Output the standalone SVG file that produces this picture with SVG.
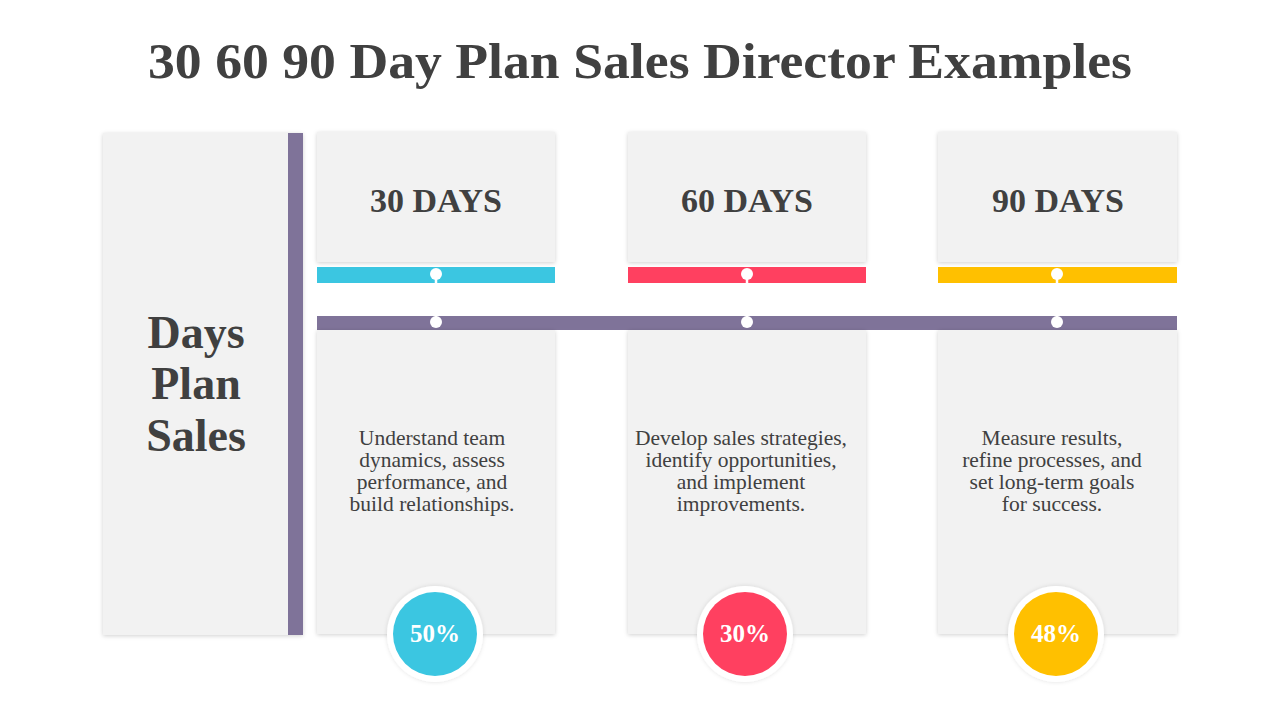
<svg xmlns="http://www.w3.org/2000/svg" width="1280" height="720" viewBox="0 0 1280 720">
<defs>
<filter id="sh" x="-10%" y="-10%" width="120%" height="120%">
<feDropShadow dx="0" dy="1" stdDeviation="2" flood-color="#000" flood-opacity="0.18"/>
</filter>
<filter id="sh2" x="-20%" y="-20%" width="140%" height="140%">
<feDropShadow dx="0" dy="0" stdDeviation="2" flood-color="#000" flood-opacity="0.12"/>
</filter>
</defs>
<style>
.panel{fill:#f2f2f2;filter:url(#sh);}
.title{font-family:"Liberation Serif","DejaVu Serif",serif;font-weight:bold;font-size:51px;fill:#404040;text-anchor:middle;}
.head{font-family:"Liberation Serif","DejaVu Serif",serif;font-weight:bold;font-size:34px;fill:#404040;text-anchor:middle;}
.side{font-family:"Liberation Serif","DejaVu Serif",serif;font-weight:bold;font-size:46px;fill:#404040;text-anchor:middle;}
.body{font-family:"Liberation Serif","DejaVu Serif",serif;font-size:21.5px;fill:#404040;text-anchor:middle;}
.pct{font-family:"Liberation Serif","DejaVu Serif",serif;font-weight:bold;font-size:25px;fill:#ffffff;text-anchor:middle;}
.dot{fill:#ffffff;}
.purple{fill:#7f7399;}
</style>
<rect width="1280" height="720" fill="#ffffff"/>
<text class="title" x="640" y="78" textLength="984" lengthAdjust="spacingAndGlyphs">30 60 90 Day Plan Sales Director Examples</text>

<g id="side-panel">
<rect class="panel" x="103" y="133" width="200" height="502"/>
<rect class="purple" x="288" y="133" width="15" height="502"/>
<text class="side" x="196" y="348">Days</text>
<text class="side" x="196" y="399">Plan</text>
<text class="side" x="196" y="451">Sales</text>
</g>

<g id="timeline">
<rect class="purple" x="317" y="316" width="860" height="14"/>
</g>

<g id="stage-30">
<rect class="panel" x="317" y="132" width="238" height="130"/>
<text class="head" x="436" y="212">30 DAYS</text>
<rect x="317" y="267" width="238" height="16" fill="#3bc6e1"/>
<rect class="panel" x="317" y="330" width="238" height="304"/>
<text class="body" x="432" y="445">Understand team</text>
<text class="body" x="432" y="467">dynamics, assess</text>
<text class="body" x="432" y="489">performance, and</text>
<text class="body" x="432" y="511">build relationships.</text>
<circle cx="435" cy="634" r="48" fill="#ffffff" filter="url(#sh2)"/>
<circle cx="435" cy="634" r="42" fill="#3bc6e1"/>
<text class="pct" x="435" y="642">50%</text>
</g>

<g id="stage-60">
<rect class="panel" x="628" y="132" width="238" height="130"/>
<text class="head" x="747" y="212">60 DAYS</text>
<rect x="628" y="267" width="238" height="16" fill="#ff4060"/>
<rect class="panel" x="628" y="330" width="238" height="304"/>
<text class="body" x="741" y="445">Develop sales strategies,</text>
<text class="body" x="741" y="467">identify opportunities,</text>
<text class="body" x="741" y="489">and implement</text>
<text class="body" x="741" y="511">improvements.</text>
<circle cx="745" cy="634" r="48" fill="#ffffff" filter="url(#sh2)"/>
<circle cx="745" cy="634" r="42" fill="#ff4060"/>
<text class="pct" x="745" y="642">30%</text>
</g>

<g id="stage-90">
<rect class="panel" x="938" y="132" width="239" height="130"/>
<text class="head" x="1058" y="212">90 DAYS</text>
<rect x="938" y="267" width="239" height="16" fill="#ffc000"/>
<rect class="panel" x="938" y="330" width="239" height="304"/>
<text class="body" x="1052" y="445">Measure results,</text>
<text class="body" x="1052" y="467">refine processes, and</text>
<text class="body" x="1052" y="489">set long-term goals</text>
<text class="body" x="1052" y="511">for success.</text>
<circle cx="1056" cy="634" r="48" fill="#ffffff" filter="url(#sh2)"/>
<circle cx="1056" cy="634" r="42" fill="#ffc000"/>
<text class="pct" x="1056" y="642">48%</text>
</g>

<g id="connectors">
<g stroke="#ffffff" stroke-width="2.5">
<line x1="436" y1="274" x2="436" y2="322"/>
<line x1="747" y1="274" x2="747" y2="322"/>
<line x1="1057" y1="274" x2="1057" y2="322"/>
</g>
<circle class="dot" cx="436" cy="274" r="6"/>
<circle class="dot" cx="436" cy="322" r="6"/>
<circle class="dot" cx="747" cy="274" r="6"/>
<circle class="dot" cx="747" cy="322" r="6"/>
<circle class="dot" cx="1057" cy="274" r="6"/>
<circle class="dot" cx="1057" cy="322" r="6"/>
</g>
</svg>
